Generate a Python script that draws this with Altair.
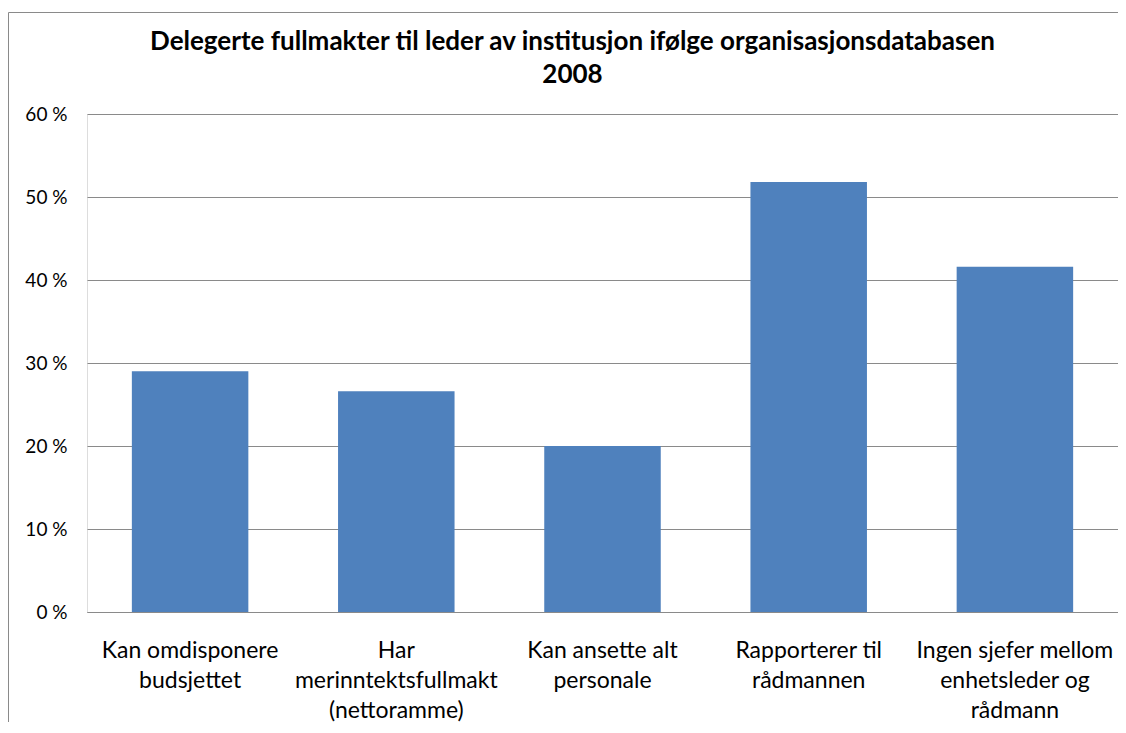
import altair as alt
import pandas as pd

categories = [
    "Kan omdisponere|budsjettet",
    "Har|merinntektsfullmakt|(nettoramme)",
    "Kan ansette alt|personale",
    "Rapporterer til|rådmannen",
    "Ingen sjefer mellom|enhetsleder og|rådmann",
]
values = [29.0, 26.6, 20.0, 51.8, 41.6]
y_ticks = [0, 10, 20, 30, 40, 50, 60]
title_lines = [
    "Delegerte fullmakter til leder av institusjon ifølge organisasjonsdatabasen",
    "2008",
]

df = pd.DataFrame({"kategori": categories, "andel": values})
frame_df = pd.DataFrame({"k": [0]})

W, H = 1031, 498
PAD_L, PAD_T, PAD_B = 79, 106, 110
FONT = "Lato"
GRID = "#8a8a8a"

bars = alt.Chart(df).mark_bar(color="#4F81BD").encode(
    x=alt.X(
        "kategori:N",
        sort=categories,
        scale=alt.Scale(paddingInner=0.435, paddingOuter=0.2175),
        axis=alt.Axis(
            title=None,
            labelAngle=0,
            labelExpr="split(datum.label, '|')",
            labelFontSize=23,
            labelLineHeight=30,
            labelPadding=27,
            labelLimit=0,
            ticks=False,
            tickSize=0,
            domainColor=GRID,
            labelColor="black",
            labelFont=FONT,
        ),
    ),
    y=alt.Y(
        "andel:Q",
        scale=alt.Scale(domain=[0, 60], nice=False),
        axis=alt.Axis(
            values=y_ticks,
            title=None,
            labelExpr="datum.value + ' %'",
            ticks=False,
            tickSize=0,
            domain=False,
            gridColor=GRID,
            labelPadding=20,
            labelFontSize=19,
            labelColor="black",
            labelFont=FONT,
        ),
    ),
)

left_border = alt.Chart(frame_df).mark_rule(color="#8a8a8a", strokeWidth=1).encode(
    x=alt.value(-PAD_L + 0.5),
    y=alt.value(-PAD_T + 4.5),
    y2=alt.value(H + PAD_B),
)
top_border = alt.Chart(frame_df).mark_rule(color="#8a8a8a", strokeWidth=1).encode(
    x=alt.value(-PAD_L + 0.5),
    x2=alt.value(W),
    y=alt.value(-PAD_T + 4.5),
)

chart = (
    alt.layer(bars, left_border, top_border)
    .properties(
        width=W,
        height=H,
        padding={"left": PAD_L, "top": PAD_T, "right": 0, "bottom": PAD_B},
        autosize=alt.AutoSizeParams(type="none"),
        title=alt.TitleParams(
            title_lines,
            font=FONT,
            fontSize=26,
            fontWeight="bold",
            color="black",
            anchor="middle",
            frame="group",
            dx=-30,
            lineHeight=33,
            offset=-76,
        ),
    )
    .configure_view(stroke=None)
    .configure(background="white")
)

chart.save("out.html", embed_options={"renderer": "svg", "actions": False})
